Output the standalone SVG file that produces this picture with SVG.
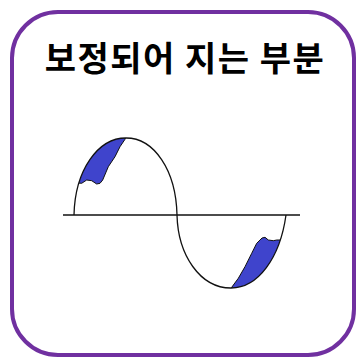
<svg xmlns="http://www.w3.org/2000/svg" width="356" height="359" viewBox="0 0 356 359">
<style>
.title{font-family:"Noto Sans CJK KR","Noto Sans",sans-serif;font-weight:bold;font-size:34px;letter-spacing:1.5px;fill:#000}
.curve{fill:none;stroke:#111;stroke-width:1.3}
.blue{fill:#3f44cc;stroke:#111;stroke-width:1}
</style>
<defs>
<clipPath id="topLobe"><path d="M74,215 C75,170 98,138 126,138 C154,138 176,170 177,215 Z"/></clipPath>
<clipPath id="botLobe"><path d="M177,215 C178,255 200,288 231,288 C258,288 280,258 286,215 Z"/></clipPath>
</defs>
<rect id="frame" x="12" y="12" width="342" height="343" rx="46" ry="46" fill="#fff" stroke="#7030a0" stroke-width="4"/>
<g id="title"><text class="title" x="185" y="71" text-anchor="middle">보정되어 지는 부분</text></g>
<g id="shaded">
<polygon class="blue" clip-path="url(#topLobe)" points="128,128 110,128 85,148 66,182 81.7,183.3 86.7,180 91.7,180.7 96.7,184 100,183.3 102.7,180 108.3,166.7 115,156.7 120,146.7 125,139.3"/>
<polygon class="blue" clip-path="url(#botLobe)" points="262,238 265,237.3 268.3,240 273.3,240.7 276.7,240 292,240 292,298 231,298 231.7,287.3 238.3,278.3 245,266.7 251.7,253.3 256.7,243.3"/>
</g>
<g id="connectors">
<line x1="63" y1="215" x2="300" y2="215" stroke="#111" stroke-width="1.5"/>
<path class="curve" d="M74,215 C75,170 98,138 126,138 C154,138 176,170 177,215 C178,255 200,288 231,288 C258,288 280,258 286,215"/>
</g>
</svg>
